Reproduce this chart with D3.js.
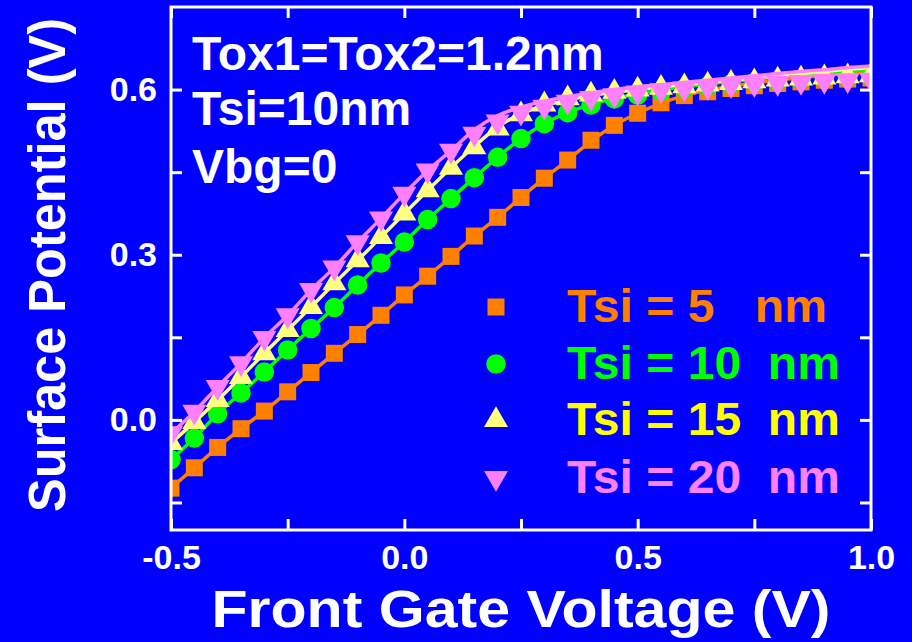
<!DOCTYPE html>
<html>
<head>
<meta charset="utf-8">
<script src="https://cdn.jsdelivr.net/npm/d3@7"></script>
<style>
  body { margin: 0; background: #0000ff; }
  text { font-family: Arial, "Liberation Sans", sans-serif; font-weight: bold; }
</style>
</head>
<body>
<script>
let width = 912;
let height = 642;
let margin = ({top: 7, right: 41, bottom: 112, left: 171});

// front gate voltage (V)
let vgs = [-0.5, -0.45, -0.4, -0.35, -0.3, -0.25, -0.2, -0.15, -0.1, -0.05, 0, 0.05, 0.1, 0.15, 0.2,
  0.25, 0.3, 0.35, 0.4, 0.45, 0.5, 0.55, 0.6, 0.65, 0.7, 0.75, 0.8, 0.85, 0.9, 0.95, 1.0];

// simulated points (markers)
let tsi5Sim = [-0.124, -0.087, -0.05, -0.016, 0.016, 0.051, 0.086, 0.121, 0.155, 0.19, 0.227, 0.261, 0.297, 0.334, 0.368,
  0.404, 0.439, 0.472, 0.508, 0.535, 0.557, 0.576, 0.589, 0.596, 0.602, 0.607, 0.611, 0.614, 0.617, 0.619, 0.621];
let tsi10Sim = [-0.072, -0.033, 0.011, 0.049, 0.087, 0.127, 0.166, 0.204, 0.245, 0.285, 0.323, 0.364, 0.402, 0.44, 0.477,
  0.511, 0.538, 0.558, 0.572, 0.583, 0.59, 0.597, 0.602, 0.606, 0.61, 0.613, 0.616, 0.618, 0.62, 0.622, 0.624];
let tsi15Sim = [-0.042, -0.004, 0.036, 0.078, 0.121, 0.163, 0.205, 0.248, 0.29, 0.332, 0.375, 0.417, 0.458, 0.495, 0.529,
  0.555, 0.573, 0.584, 0.591, 0.596, 0.6, 0.603, 0.606, 0.609, 0.612, 0.615, 0.618, 0.62, 0.622, 0.624, 0.626];
let tsi20Sim = [-0.024, 0.015, 0.06, 0.103, 0.149, 0.19, 0.236, 0.277, 0.323, 0.366, 0.411, 0.453, 0.489, 0.52, 0.542,
  0.558, 0.569, 0.578, 0.585, 0.59, 0.595, 0.599, 0.602, 0.605, 0.608, 0.61, 0.612, 0.614, 0.616, 0.617, 0.618];

// model curves (lines)
let tsi5Model = [-0.124, -0.087, -0.05, -0.016, 0.016, 0.051, 0.086, 0.121, 0.155, 0.19, 0.227, 0.261, 0.297, 0.334, 0.368,
  0.404, 0.439, 0.472, 0.506, 0.535, 0.557, 0.575, 0.589, 0.599, 0.606, 0.612, 0.617, 0.622, 0.626, 0.63, 0.634];
let tsi10Model = [-0.072, -0.033, 0.011, 0.049, 0.087, 0.127, 0.166, 0.204, 0.245, 0.285, 0.323, 0.364, 0.402, 0.44, 0.477,
  0.511, 0.538, 0.558, 0.573, 0.584, 0.592, 0.599, 0.605, 0.61, 0.615, 0.619, 0.623, 0.627, 0.631, 0.635, 0.638];
let tsi15Model = [-0.042, -0.004, 0.036, 0.078, 0.121, 0.163, 0.205, 0.248, 0.29, 0.332, 0.375, 0.417, 0.458, 0.497, 0.532,
  0.556, 0.571, 0.581, 0.589, 0.595, 0.6, 0.605, 0.609, 0.613, 0.617, 0.621, 0.625, 0.629, 0.633, 0.637, 0.64];
let tsi20Model = [-0.024, 0.015, 0.06, 0.103, 0.149, 0.19, 0.236, 0.277, 0.323, 0.366, 0.411, 0.453, 0.489, 0.527, 0.553,
  0.568, 0.579, 0.587, 0.594, 0.6, 0.605, 0.609, 0.613, 0.617, 0.621, 0.625, 0.629, 0.633, 0.636, 0.64, 0.643];

let seriesNames = ["Tsi = 5   nm", "Tsi = 10  nm", "Tsi = 15  nm", "Tsi = 20  nm"];
let xTicks = [-0.5, -0.25, 0, 0.25, 0.5, 0.75, 1.0];
let yTicks = [-0.15, 0, 0.15, 0.3, 0.45, 0.6];
let notes = ["Tox1=Tox2=1.2nm", "Tsi=10nm", "Vbg=0"];

let series = [
  {name: seriesNames[0], sim: tsi5Sim, model: tsi5Model, color: "#ff8000", textColor: "#ff8000", shape: "square"},
  {name: seriesNames[1], sim: tsi10Sim, model: tsi10Model, color: "#00ff00", textColor: "#00ff00", shape: "circle"},
  {name: seriesNames[2], sim: tsi15Sim, model: tsi15Model, color: "#ffff80", textColor: "#ffff00", shape: "up"},
  {name: seriesNames[3], sim: tsi20Sim, model: tsi20Model, color: "#ff80ff", textColor: "#ff80ff", shape: "down"}
];

let svg = d3.select("body").append("svg").attr("width", width).attr("height", height);
svg.append("rect").attr("width", width).attr("height", height).attr("fill", "#0000ff");

let x = d3.scaleLinear().domain([-0.5, 1.0]).range([margin.left, width - margin.right]);
let y = d3.scaleLinear().domain([-0.2, 0.75]).range([height - margin.bottom, margin.top]);

svg.append("clipPath").attr("id", "plot")
  .append("rect")
  .attr("x", x(-0.5)).attr("y", y(0.75))
  .attr("width", x(1.0) - x(-0.5)).attr("height", y(-0.2) - y(0.75));

let symbolPath = function (shape) {
  if (shape === "square") return d3.symbol(d3.symbolSquare, 289)();
  if (shape === "circle") return d3.symbol(d3.symbolCircle, 300)();
  return d3.symbol(d3.symbolTriangle, 250)();
}

let line = d3.line()
  .x((d, i) => x(vgs[i]))
  .y(d => y(d))
  .curve(d3.curveMonotoneX);

let plot = svg.append("g").attr("clip-path", "url(#plot)");

series.forEach(s => {
  plot.append("path")
    .attr("d", line(s.model))
    .attr("fill", "none")
    .attr("stroke", s.color)
    .attr("stroke-width", 3.5);
  plot.append("g")
    .selectAll("path")
    .data(s.sim)
    .join("path")
    .attr("d", symbolPath(s.shape))
    .attr("transform", (d, i) => `translate(${x(vgs[i])},${y(d)})` + (s.shape === "down" ? " rotate(180)" : ""))
    .attr("fill", s.color);
});

// frame and axes
let tickStyle = g => {
  g.select(".domain").remove();
  g.selectAll("line").attr("stroke", "white").attr("stroke-width", 3);
  g.selectAll("text").attr("fill", "white").attr("font-size", 34);
};

svg.append("g")
  .attr("transform", `translate(0,${y(-0.2)})`)
  .call(d3.axisBottom(x).tickValues(xTicks).tickSize(-11).tickPadding(15)
    .tickFormat((d, i) => i % 2 === 0 ? d.toFixed(1) : ""))
  .call(tickStyle);

svg.append("g")
  .attr("transform", `translate(0,${y(0.75)})`)
  .call(d3.axisTop(x).tickValues(xTicks).tickSize(-11).tickFormat(""))
  .call(tickStyle);

svg.append("g")
  .attr("transform", `translate(${x(-0.5)},0)`)
  .call(d3.axisLeft(y).tickValues(yTicks).tickSize(-11).tickPadding(14)
    .tickFormat((d, i) => i % 2 === 1 ? d.toFixed(1) : ""))
  .call(tickStyle);

svg.append("g")
  .attr("transform", `translate(${x(1.0)},0)`)
  .call(d3.axisRight(y).tickValues(yTicks).tickSize(-11).tickFormat(""))
  .call(tickStyle);

svg.append("rect")
  .attr("x", x(-0.5)).attr("y", y(0.75))
  .attr("width", x(1.0) - x(-0.5)).attr("height", y(-0.2) - y(0.75))
  .attr("fill", "none")
  .attr("stroke", "white")
  .attr("stroke-width", 3);

// axis titles
svg.append("text")
  .attr("x", 521).attr("y", 627)
  .attr("text-anchor", "middle")
  .attr("fill", "white")
  .attr("font-size", 51)
  .attr("textLength", 619)
  .attr("lengthAdjust", "spacingAndGlyphs")
  .text("Front Gate Voltage (V)");

svg.append("text")
  .attr("transform", "translate(65,265) rotate(-90)")
  .attr("text-anchor", "middle")
  .attr("fill", "white")
  .attr("font-size", 51)
  .attr("textLength", 494)
  .attr("lengthAdjust", "spacingAndGlyphs")
  .text("Surface Potential (V)");

// annotation
svg.append("g")
  .selectAll("text")
  .data(notes)
  .join("text")
  .attr("x", 192)
  .attr("y", (d, i) => [70, 125, 183][i])
  .attr("fill", "white")
  .attr("font-size", 48)
  .text(d => d);

// legend
let legend = svg.append("g")
  .selectAll("g")
  .data(series)
  .join("g")
  .attr("transform", (d, i) => `translate(496,${[322, 379, 435, 493][i]})`);

legend.append("path")
  .attr("d", d => symbolPath(d.shape))
  .attr("transform", d => "translate(0,-15)" + (d.shape === "down" ? " rotate(180)" : ""))
  .attr("fill", d => d.color);

legend.append("text")
  .attr("x", 71)
  .attr("fill", d => d.textColor)
  .attr("font-size", 47)
  .attr("textLength", (d, i) => i === 0 ? 260 : 273)
  .attr("lengthAdjust", "spacingAndGlyphs")
  .style("white-space", "pre")
  .text(d => d.name);
</script>
</body>
</html>
